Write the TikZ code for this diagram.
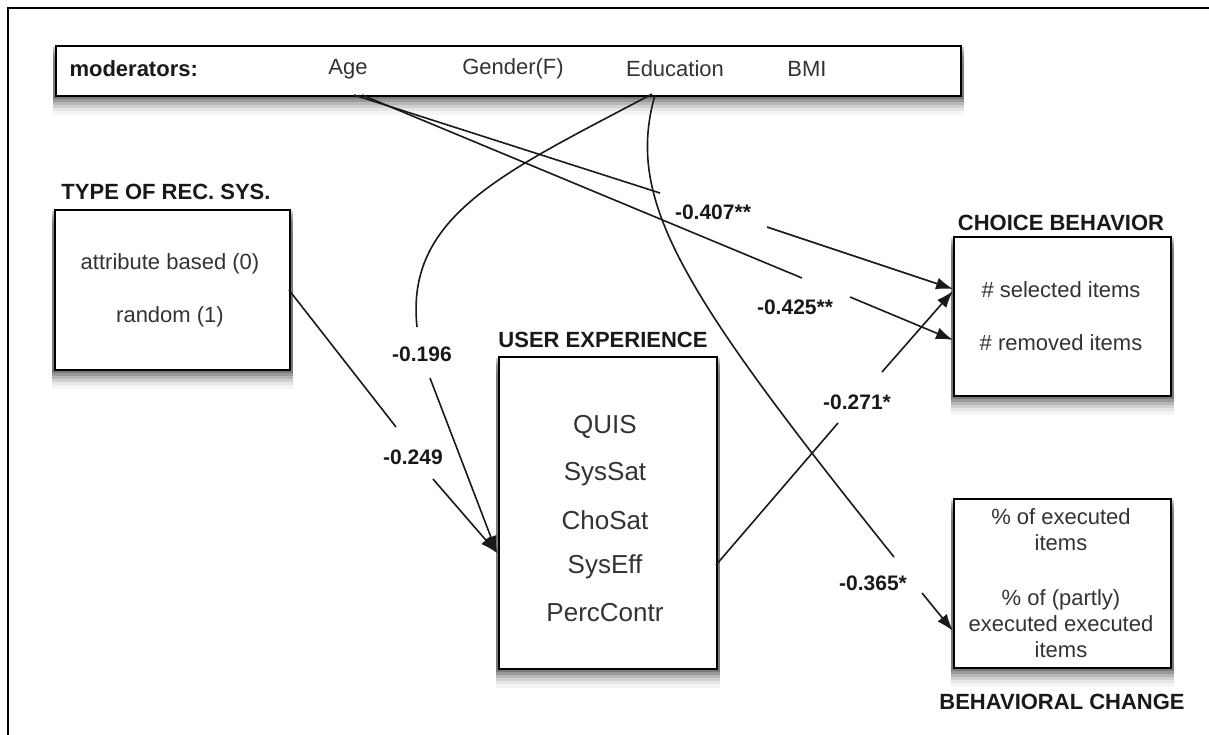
\documentclass[tikz,border=0pt]{standalone}
\usepackage{fontspec}
\setmainfont{Liberation Sans}
\usetikzlibrary{arrows.meta,backgrounds,calc}
\newcommand\myshadow[1]{%
  \begin{scope}[on background layer]
    \foreach \d/\o in {18/0.04,14/0.06,11/0.09,8/0.12,5/0.16,2/0.2}{
      \fill[black,opacity=\o] ($(#1.north west)+(-2,\d)$) rectangle ($(#1.south east)+(2,\d)$);
    }
  \end{scope}}
\begin{document}
\begin{tikzpicture}[x=1pt,y=-1pt,
  box/.style={draw=black,line width=1.8pt,fill=white,anchor=north west,inner sep=0pt},
  reg/.style={font=\fontsize{22}{26}\selectfont,text=black!80,align=center},
  ux/.style={font=\fontsize{26}{30}\selectfont,text=black!80},
  head/.style={font=\fontsize{22}{26}\selectfont\bfseries,text=black!90},
  lab/.style={font=\fontsize{21}{25}\selectfont\bfseries,text=black!90},
  conn/.style={line width=1.6pt,black!90},
  arr/.style={conn,-{Latex[length=17pt,width=12pt]}}
]
\useasboundingbox (0,0) rectangle (1209,735);
\begin{scope}[on background layer]
  \fill[white] (0,0) rectangle (1209,735);
\end{scope}
% frame
\draw[line width=2pt] (8,735) -- (8,8) -- (1209,8);

% moderators
\node[box,minimum width=905pt,minimum height=50pt] (mod) at (55,45) {};
\node[head,anchor=west] (modlab) at (66,69) {moderators:};
\node[reg] (age) at (348,69) {Age};
\node[reg] (gender) at (513,69) {Gender(F)};
\node[reg] (edu) at (675,69) {Education};
\node[reg] (bmi) at (807,69) {BMI};

% type of rec sys
\node[box,minimum width=235pt,minimum height=160pt] (type) at (54,209) {};
\node[head] (typelab) at (166,192) {TYPE OF REC. SYS.};
\node[reg] (attr) at (170,264) {attribute based (0)};
\node[reg] (rand) at (170,317) {random (1)};

% user experience
\node[box,minimum width=218pt,minimum height=312pt] (user) at (498,356) {};
\node[head] (userlab) at (603,340) {USER EXPERIENCE};
\node[ux] (quis) at (605,427) {QUIS};
\node[ux] (syssat) at (605,474) {SysSat};
\node[ux] (chosat) at (605,520) {ChoSat};
\node[ux] (syseff) at (605,567) {SysEff};
\node[ux] (perc) at (605,613) {PercContr};

% choice behavior
\node[box,minimum width=217pt,minimum height=159pt] (choice) at (953,236) {};
\node[head] (choicelab) at (1061,223) {CHOICE BEHAVIOR};
\node[reg] (sel) at (1061,290) {\# selected items};
\node[reg] (rem) at (1061,343) {\# removed items};

% behavioral change
\node[box,minimum width=217pt,minimum height=169pt] (behav) at (953,498) {};
\node[reg] (exec) at (1061,530) {\% of executed\\items};
\node[reg] (pexec) at (1061,624) {\% of (partly)\\executed executed\\items};
\node[head] (behavlab) at (1062,702) {BEHAVIORAL CHANGE};

\myshadow{mod}
\myshadow{type}
\myshadow{user}
\myshadow{choice}
\myshadow{behav}

% labels
\node[lab] (l407) at (713,212) {-0.407**};
\node[lab] (l425) at (795,307) {-0.425**};
\node[lab] (l196) at (422,354) {-0.196};
\node[lab] (l249) at (413,457) {-0.249};
\node[lab] (l271) at (857,402) {-0.271*};
\node[lab] (l365) at (873,583) {-0.365*};

% connector points
\coordinate (ageA) at (354,95);
\coordinate (ageB) at (362,95);
\coordinate (eduA) at (652,94);
\coordinate (eduB) at (655,95);
\coordinate (typeOut) at (289,290);
\coordinate (userIn) at (497,553);
\coordinate (userOut) at (716,565);
\coordinate (selIn) at (953,289);
\coordinate (selIn2) at (953,291);
\coordinate (remIn) at (953,340);
\coordinate (behIn) at (953,631);
\coordinate (g407a) at (660,193);
\coordinate (g407b) at (767,227);
\coordinate (g425a) at (802,278);
\coordinate (g425b) at (850,297);
\coordinate (g196a) at (417,327);
\coordinate (g196b) at (430,378);
\coordinate (g249a) at (396,427);
\coordinate (g249b) at (433,479);
\coordinate (g271a) at (838,423);
\coordinate (g271b) at (882,372);
\coordinate (g365a) at (894,557);
\coordinate (g365b) at (922,593);

% connectors
\draw[conn] (ageA) -- (g407a);
\draw[arr] (g407b) -- (selIn);
\draw[conn] (ageB) -- (g425a);
\draw[arr] (g425b) -- (remIn);
\draw[conn] (eduA) .. controls (505,172) and (405,215) .. (g196a);
\draw[arr] (g196b) -- (userIn);
\draw[conn] (typeOut) -- (g249a);
\draw[arr] (g249b) -- (userIn);
\draw[conn] (userOut) -- (g271a);
\draw[arr] (g271b) -- (selIn2);
\draw[conn] (eduB) .. controls (625,200) and (680,290) .. (g365a);
\draw[arr] (g365b) -- (behIn);
\end{tikzpicture}
\end{document}
